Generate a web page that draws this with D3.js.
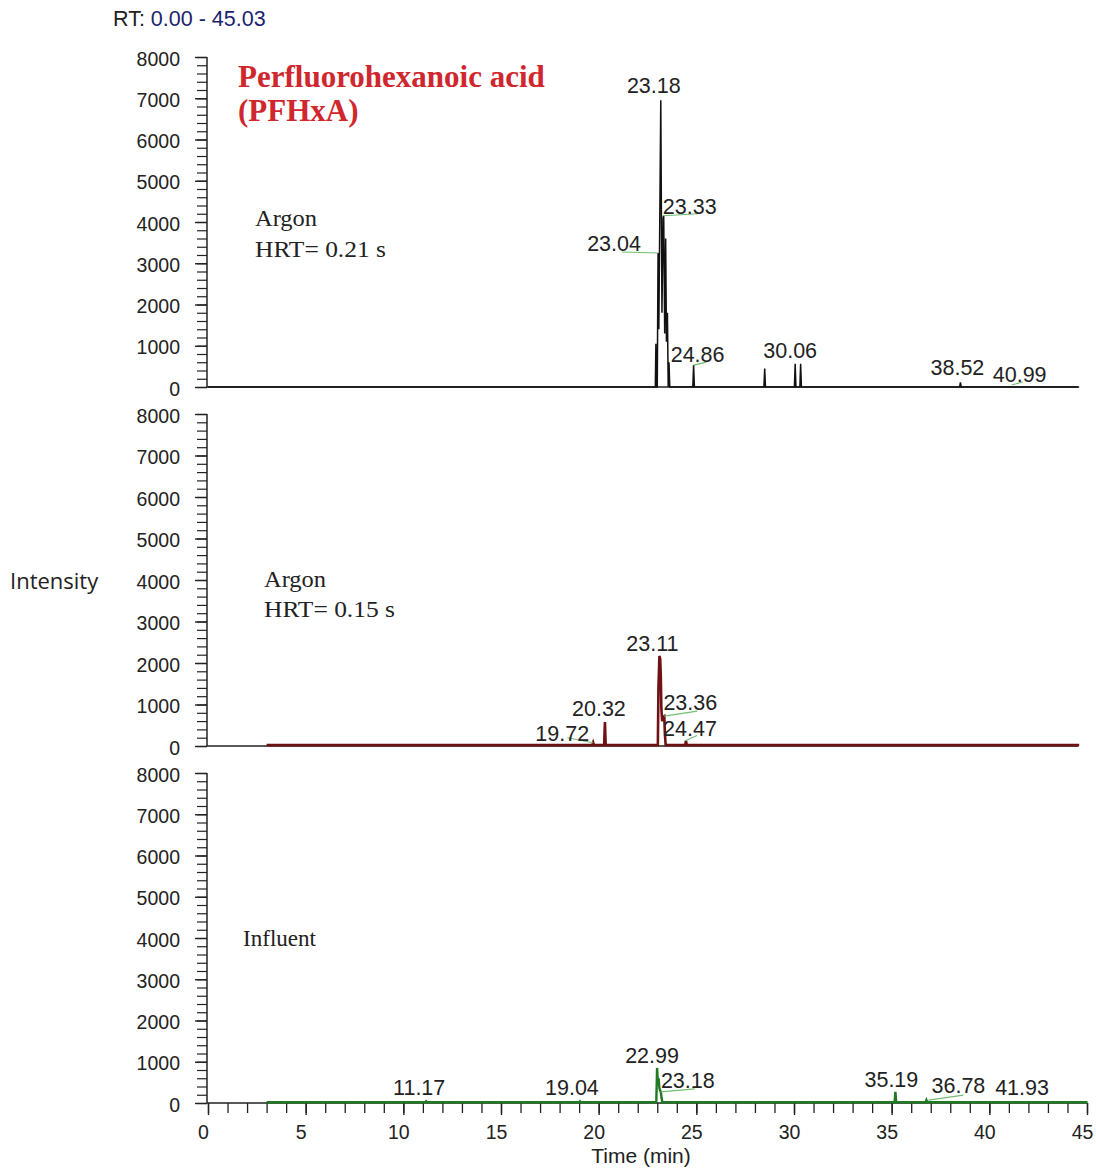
<!DOCTYPE html>
<html>
<head>
<meta charset="utf-8">
<script src="https://cdn.jsdelivr.net/npm/d3@7"></script>
<style>
  html, body { margin: 0; padding: 0; background: #fff; }
  svg { display: block; }
  .num { font-family: "Liberation Sans", Arial, sans-serif; fill: #222; }
  .serif { font-family: "Liberation Serif", "Times New Roman", serif; fill: #222; }
</style>
</head>
<body>
<svg id="chart" width="1096" height="1170"></svg>
<script>
// ---- Data: retention time (min) vs. intensity for the three chromatograms ----
const rtRange = [0.00, 45.03];
const timeTicks = [0, 5, 10, 15, 20, 25, 30, 35, 40, 45];
const intensityTicks = [0, 1000, 2000, 3000, 4000, 5000, 6000, 7000, 8000];

// Argon, HRT = 0.21 s
const argon021 = [
  [0, 0], [22.90, 0], [22.93, 1050], [22.96, 0], [23.00, 0], [23.04, 3250],
  [23.08, 1400], [23.18, 6950], [23.24, 1800], [23.30, 4100], [23.33, 4150],
  [23.38, 1300], [23.43, 3600], [23.47, 1100], [23.52, 1800], [23.56, 0],
  [23.60, 600], [23.64, 0], [24.82, 0], [24.86, 530], [24.90, 0],
  [28.46, 0], [28.50, 450], [28.54, 0], [30.02, 0], [30.06, 560], [30.10, 0],
  [30.30, 0], [30.34, 560], [30.38, 0], [38.48, 0], [38.52, 110], [38.56, 0],
  [44.60, 0]
];
const argon021Peaks = [
  { rt: 23.18, level: 6950 }, { rt: 23.33, level: 4150 }, { rt: 23.04, level: 3250 },
  { rt: 24.86, level: 530 }, { rt: 30.06, level: 560 }, { rt: 38.52, level: 110 },
  { rt: 40.99, level: 0 }
];

// Argon, HRT = 0.15 s
const argon015 = [
  [3.00, 20], [19.68, 20], [19.72, 80], [19.76, 20], [20.28, 20], [20.32, 580],
  [20.36, 20], [23.03, 20], [23.06, 1400], [23.11, 2170], [23.15, 2100],
  [23.18, 1700], [23.21, 900], [23.25, 600], [23.30, 700], [23.36, 720],
  [23.39, 300], [23.43, 20], [24.43, 20], [24.47, 130], [24.51, 20], [44.60, 20]
];
const argon015Peaks = [
  { rt: 19.72, level: 80 }, { rt: 20.32, level: 580 }, { rt: 23.11, level: 2170 },
  { rt: 23.36, level: 720 }, { rt: 24.47, level: 130 }
];

// Influent
const influent = [
  [3.00, 20], [11.13, 20], [11.17, 40], [11.21, 20], [19.00, 20], [19.04, 40],
  [19.08, 20], [22.95, 20], [22.99, 850], [23.03, 500], [23.07, 600],
  [23.11, 350], [23.18, 270], [23.22, 120], [23.26, 20], [35.15, 20],
  [35.19, 270], [35.23, 20], [36.74, 20], [36.78, 70], [36.82, 20], [45.03, 20]
];
const influentPeaks = [
  { rt: 11.17, level: 40 }, { rt: 19.04, level: 40 }, { rt: 22.99, level: 850 },
  { rt: 23.18, level: 270 }, { rt: 35.19, level: 270 }, { rt: 36.78, level: 70 },
  { rt: 41.93, level: 0 }
];

// ---- Layout ----
const svg = d3.select("#chart");
const x = d3.scaleLinear().domain([0, 45]).range([208, 1087]);

// label placement (text centre offset, baseline offset, optional leader end)
const argon021Layout = [
  { dx: -7, dy: -7 },
  { dx: 26, dy: -2, lead: [34, -2] },
  { dx: -44, dy: -2, lead: [-36, -1] },
  { dx: 4, dy: -3, lead: [13, -3] },
  { dx: -5, dy: -6 },
  { dx: -3, dy: -7 },
  { dx: 11, dy: -5, lead: [14, -5], leadStart: [3, -2] }
];
const argon015Layout = [
  { dx: -31, dy: -2, lead: [-26, -5] },
  { dx: -6, dy: -6 },
  { dx: -7, dy: -5 },
  { dx: 26, dy: -6, lead: [33, -5] },
  { dx: 4, dy: -5, lead: [11, -5] }
];
const influentLayout = [
  { dx: -7, dy: -6 },
  { dx: -8, dy: -6 },
  { dx: -5, dy: -5 },
  { dx: 27, dy: -4, lead: [34, -3] },
  { dx: -4, dy: -5 },
  { dx: 32, dy: -7, lead: [37, -5], leadStart: [2, 0] },
  { dx: -5, dy: -8 }
];

const panels = [
  { top: 57, bottom: 387, data: argon021, peaks: argon021Peaks, layout: argon021Layout,
    color: "#111", width: 1.5, axisEnd: 1078, timeAxis: false },
  { top: 414, bottom: 746, data: argon015, peaks: argon015Peaks, layout: argon015Layout,
    color: "#6e1216", width: 2.6, axisEnd: 1078, timeAxis: false },
  { top: 773, bottom: 1103, data: influent, peaks: influentPeaks, layout: influentLayout,
    color: "#1f7a22", width: 2.4, axisEnd: 1087, timeAxis: true }
];

const line = d3.line();

panels.forEach(p => {
  const y = d3.scaleLinear().domain([0, 8000]).range([p.bottom, p.top]);
  const g = svg.append("g");

  // minor intensity ticks every 200
  const minor = g.append("g").attr("transform", `translate(207,0)`)
    .call(d3.axisLeft(y).tickValues(d3.range(0, 8001, 200)).tickSize(10).tickFormat(""));
  minor.select(".domain").remove();
  minor.selectAll("line").attr("stroke", "#222").attr("stroke-width", 1.2);

  const major = g.append("g").attr("transform", `translate(207,0)`)
    .call(d3.axisLeft(y).tickValues(intensityTicks).tickSize(12).tickPadding(15)
      .tickFormat(d3.format("d")));
  major.select(".domain").attr("d", `M0,${p.top}V${p.bottom}`).attr("stroke", "#222")
    .attr("stroke-width", 1.5);
  major.selectAll("line").attr("stroke", "#222").attr("stroke-width", 1.4);
  major.selectAll("text").attr("class", "num").attr("font-size", 19.5)
    .attr("dy", "0.42em").style("fill", "#222");

  // time axis / baseline
  if (p.timeAxis) {
    const tMinor = g.append("g").attr("transform", `translate(0,${p.bottom})`)
      .call(d3.axisBottom(x).tickValues(d3.range(0, 46, 1)).tickSize(10).tickFormat(""));
    tMinor.select(".domain").remove();
    tMinor.selectAll("line").attr("stroke", "#222").attr("stroke-width", 1.3);
    const tMajor = g.append("g").attr("transform", `translate(0,${p.bottom})`)
      .call(d3.axisBottom(x).tickValues(timeTicks).tickSize(12).tickPadding(10));
    tMajor.select(".domain").attr("d", `M207,0H${p.axisEnd}`).attr("stroke", "#222")
      .attr("stroke-width", 1.5);
    tMajor.selectAll("line").attr("stroke", "#222").attr("stroke-width", 1.4);
    tMajor.selectAll("text").attr("class", "num").attr("font-size", 19.5)
      .attr("dx", -5).style("fill", "#222");
  } else {
    g.append("line").attr("x1", 207).attr("x2", p.axisEnd)
      .attr("y1", p.bottom).attr("y2", p.bottom)
      .attr("stroke", "#222").attr("stroke-width", 1.5);
  }

  // chromatogram trace
  g.append("path")
    .attr("d", line(p.data.map(d => [x(d[0]), y(d[1])])))
    .attr("fill", "none").attr("stroke", p.color).attr("stroke-width", p.width)
    .attr("stroke-linejoin", "miter");

  // peak retention-time labels with leader lines
  p.peaks.forEach((pk, i) => {
    const L = p.layout[i];
    const px = x(pk.rt), py = y(pk.level);
    if (L.lead) {
      const s = L.leadStart || [0, 0];
      g.append("line")
        .attr("x1", px + s[0]).attr("y1", py + s[1])
        .attr("x2", px + L.lead[0]).attr("y2", py + L.lead[1])
        .attr("stroke", "#6fbf6f").attr("stroke-width", 1.1);
    }
    g.append("text").attr("class", "num").attr("font-size", 21.5)
      .attr("text-anchor", "middle")
      .attr("x", px + L.dx).attr("y", py + L.dy)
      .text(pk.rt.toFixed(2));
  });
});

// ---- Header and annotations ----
const rt = svg.append("text").attr("class", "num").attr("x", 113).attr("y", 26)
  .attr("font-size", 21.5);
rt.append("tspan").style("fill", "#222").text("RT: ");
rt.append("tspan").style("fill", "#1c1f6e")
  .text(`${rtRange[0].toFixed(2)} - ${rtRange[1].toFixed(2)}`);

const title = svg.append("text").attr("x", 238)
  .style("font-family", '"Liberation Serif", "Times New Roman", serif')
  .style("font-weight", "bold").style("fill", "#d0262d").attr("font-size", 31);
title.append("tspan").attr("x", 238).attr("y", 87).text("Perfluorohexanoic acid");
title.append("tspan").attr("x", 238).attr("y", 121).text("(PFHxA)");

const notes = [
  { x: 255, y: 226, t: "Argon", w: 62 }, { x: 255, y: 257, t: "HRT= 0.21 s", w: 131 },
  { x: 264, y: 587, t: "Argon", w: 62 }, { x: 264, y: 617, t: "HRT= 0.15 s", w: 131 },
  { x: 243, y: 946, t: "Influent", w: 73 }
];
notes.forEach(n => svg.append("text").attr("class", "serif").attr("font-size", 22.5)
  .attr("x", n.x).attr("y", n.y)
  .attr("textLength", n.w).attr("lengthAdjust", "spacingAndGlyphs").text(n.t));

svg.append("text").attr("x", 10).attr("y", 589)
  .style("font-family", '"Open Sans", "Liberation Sans", sans-serif')
  .style("fill", "#222").attr("font-size", 22).text("Intensity");

svg.append("text").attr("class", "num").attr("x", 641).attr("y", 1163)
  .attr("text-anchor", "middle").attr("font-size", 21).text("Time (min)");
</script>
</body>
</html>
